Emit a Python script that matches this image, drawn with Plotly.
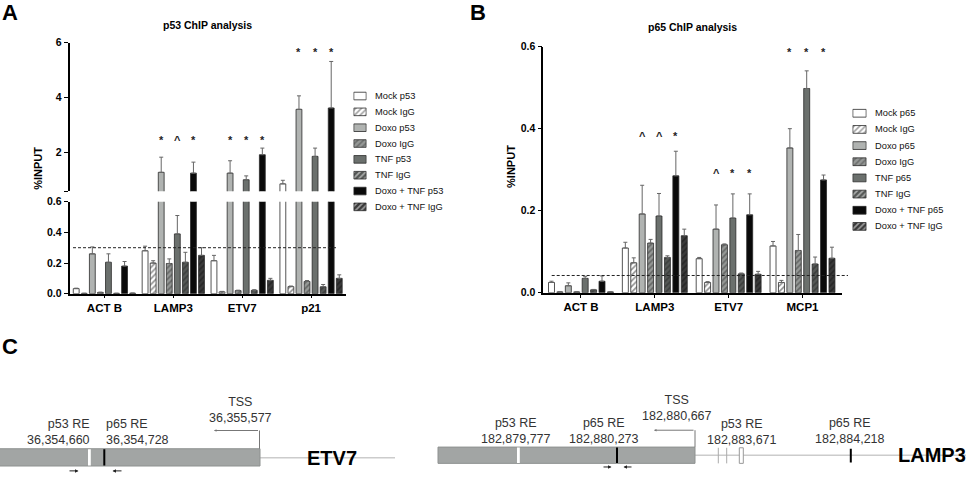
import plotly.graph_objects as go

W, H = 966, 484

# ---------------- DATA ----------------
genes_A = ["ACT B", "LAMP3", "ETV7", "p21"]
genes_B = ["ACT B", "LAMP3", "ETV7", "MCP1"]
series_A = ["Mock p53", "Mock IgG", "Doxo p53", "Doxo IgG", "TNF p53", "TNF IgG",
            "Doxo + TNF p53", "Doxo + TNF IgG"]
series_B = ["Mock p65", "Mock IgG", "Doxo p65", "Doxo IgG", "TNF p65", "TNF IgG",
            "Doxo + TNF p65", "Doxo + TNF IgG"]

# p53 ChIP (%INPUT), order of genes_A
A_mock_p53 = [0.033, 0.28, 0.215, 0.87]
A_mock_p53_err = [0.003, 0.03, 0.035, 0.13]
A_mock_igg = [0.002, 0.20, 0.012, 0.046]
A_mock_igg_err = [0.001, 0.015, 0.003, 0.004]
A_doxo_p53 = [0.26, 1.29, 1.26, 3.58]
A_doxo_p53_err = [0.045, 0.55, 0.45, 0.49]
A_doxo_igg = [0.008, 0.197, 0.02, 0.08]
A_doxo_igg_err = [0.002, 0.03, 0.003, 0.006]
A_tnf_p53 = [0.205, 0.39, 1.02, 1.87]
A_tnf_p53_err = [0.055, 0.12, 0.14, 0.30]
A_tnf_igg = [0.002, 0.205, 0.022, 0.045]
A_tnf_igg_err = [0.001, 0.065, 0.004, 0.015]
A_dt_p53 = [0.18, 1.26, 1.93, 3.63]
A_dt_p53_err = [0.03, 0.40, 0.24, 1.69]
A_dt_igg = [0.003, 0.25, 0.087, 0.10]
A_dt_igg_err = [0.001, 0.05, 0.013, 0.023]
A_threshold = 0.3

# p65 ChIP (%INPUT), order of genes_B
B_mock_p65 = [0.025, 0.109, 0.083, 0.114]
B_mock_p65_err = [0.003, 0.014, 0.003, 0.011]
B_mock_igg = [0.002, 0.073, 0.025, 0.025]
B_mock_igg_err = [0.0, 0.012, 0.002, 0.005]
B_doxo_p65 = [0.017, 0.192, 0.155, 0.353]
B_doxo_p65_err = [0.007, 0.07, 0.059, 0.047]
B_doxo_igg = [0.002, 0.121, 0.117, 0.103]
B_doxo_igg_err = [0.0, 0.009, 0.002, 0.039]
B_tnf_p65 = [0.035, 0.187, 0.182, 0.498]
B_tnf_p65_err = [0.005, 0.055, 0.059, 0.043]
B_tnf_igg = [0.007, 0.086, 0.046, 0.07]
B_tnf_igg_err = [0.001, 0.004, 0.002, 0.017]
B_dt_p65 = [0.028, 0.285, 0.19, 0.275]
B_dt_p65_err = [0.013, 0.06, 0.051, 0.012]
B_dt_igg = [0.002, 0.139, 0.045, 0.084]
B_dt_igg_err = [0.0, 0.016, 0.007, 0.027]
B_threshold = 0.042

# significance marks (gene index, marks over bars 2/4/6, height)
sig_A_genes = [1, 2, 3]
sig_A_marks = [["*", "^", "*"], ["*", "*", "*"], ["*", "*", "*"]]
sig_A_level = [2.56, 2.56, 5.78]
sig_B_genes = [1, 2, 3]
sig_B_marks = [["^", "^", "*"], ["^", "*", "*"], ["*", "*", "*"]]
sig_B_level = [0.389, 0.299, 0.595]
sig_bars = [2, 4, 6]

# gene schematics (panel C)
etv7_re_names = ["p53 RE", "p65 RE"]
etv7_re_coords = ["36,354,660", "36,354,728"]
etv7_tss_coord = "36,355,577"
lamp3_re_names = ["p53 RE", "p65 RE", "p53 RE", "p65 RE"]
lamp3_re_coords = ["182,879,777", "182,880,273", "182,883,671", "182,884,218"]
lamp3_tss_coord = "182,880,667"

# ---------------- STYLE ----------------
FONT = "Liberation Sans, Arial, sans-serif"
fills = ["#ffffff", "#ffffff", "#b0b3b1", "#959896", "#6b706d", "#555856", "#0a0a0a", "#3a3a3a"]
patterns = ["", "/", "", "/", "", "/", "", "/"]
pat_fg = ["#000000", "#222222", "#000000", "#333333", "#000000", "#222222", "#000000", "#111111"]
outline = "#2a2a2a"

A_values = [A_mock_p53, A_mock_igg, A_doxo_p53, A_doxo_igg, A_tnf_p53, A_tnf_igg, A_dt_p53, A_dt_igg]
A_errors = [A_mock_p53_err, A_mock_igg_err, A_doxo_p53_err, A_doxo_igg_err, A_tnf_p53_err,
            A_tnf_igg_err, A_dt_p53_err, A_dt_igg_err]
B_values = [B_mock_p65, B_mock_igg, B_doxo_p65, B_doxo_igg, B_tnf_p65, B_tnf_igg, B_dt_p65, B_dt_igg]
B_errors = [B_mock_p65_err, B_mock_igg_err, B_doxo_p65_err, B_doxo_igg_err, B_tnf_p65_err,
            B_tnf_igg_err, B_dt_p65_err, B_dt_igg_err]

slotA, bwA = 0.117, 0.085
slotB, bwB = 0.114, 0.081


def fx(p):
    return p / W


def fy(p):
    return 1 - p / H


fig = go.Figure()


def add_bars(values, errors, slot, bw, axes_pairs):
    for i, (v, e) in enumerate(zip(values, errors)):
        xs = [g + (i - 3.5) * slot for g in range(len(v))]
        for xa, ya in axes_pairs:
            fig.add_trace(go.Bar(
                x=xs, y=v, width=bw, xaxis=xa, yaxis=ya,
                marker=dict(color=fills[i], line=dict(color=outline, width=0.8),
                            pattern=dict(shape=patterns[i], fgcolor=pat_fg[i], bgcolor=fills[i],
                                         size=4, solidity=0.4)),
                error_y=dict(type="data", symmetric=False, array=e, arrayminus=[0] * len(e),
                             color="#666666", thickness=1, width=2),
                showlegend=False, hoverinfo="skip"))


add_bars(A_values, A_errors, slotA, bwA, [("x", "y"), ("x2", "y2")])
add_bars(B_values, B_errors, slotB, bwB, [("x3", "y3")])


def add_swatches(xa, ya, n):
    fig.add_trace(go.Bar(
        x=[1] * n, y=list(range(n)), base=0, orientation="h", width=0.48, xaxis=xa, yaxis=ya,
        marker=dict(color=fills, line=dict(color=outline, width=0.8),
                    pattern=dict(shape=patterns, fgcolor=pat_fg, bgcolor=fills, size=4, solidity=0.4)),
        showlegend=False, hoverinfo="skip"))


add_swatches("x4", "y4", len(series_A))
add_swatches("x5", "y5", len(series_B))

# -------------- AXES --------------
tickfont = dict(family=FONT, size=10.5, color="black", weight="bold")
catfont = dict(family=FONT, size=11.5, color="black", weight="bold")
axline = dict(showline=True, linecolor="black", linewidth=1.6, ticks="outside", ticklen=4,
              tickcolor="black", tickwidth=1.3, showgrid=False, zeroline=False)
hidden = dict(visible=False, showgrid=False, zeroline=False)

A_x_dom = [fx(69.5), fx(345.5)]
B_x_dom = [fx(543.3), fx(842)]

fig.update_layout(
    width=W, height=H, margin=dict(l=0, r=0, t=0, b=0),
    paper_bgcolor="white", plot_bgcolor="rgba(0,0,0,0)",
    barmode="overlay", showlegend=False,
    xaxis=dict(domain=A_x_dom, anchor="y", range=[-0.507, 3.5], tickvals=list(range(len(genes_A))),
               ticktext=genes_A, tickfont=catfont, **{**axline, "ticklen": 3}),
    yaxis=dict(domain=[fy(295), fy(200.7)], anchor="x", range=[0, 0.6],
               tickvals=[0, 0.2, 0.4, 0.6], ticktext=["0.0", "0.2", "0.4", "0.6"], tickfont=tickfont, **axline),
    xaxis2=dict(domain=A_x_dom, anchor="y2", range=[-0.507, 3.5], **hidden),
    yaxis2=dict(domain=[fy(190), fy(37.7)], anchor="x2", range=[0.6, 6],
                tickvals=[0.6, 2, 4, 6], ticktext=["", "2", "4", "6"], tickfont=tickfont, **axline),
    xaxis3=dict(domain=B_x_dom, anchor="y3", range=[-0.51, 3.535], tickvals=list(range(len(genes_B))),
                ticktext=genes_B, tickfont=catfont, **{**axline, "ticklen": 3}),
    yaxis3=dict(domain=[fy(294), fy(41.7)], anchor="x3", range=[0, 0.6],
                tickvals=[0, 0.2, 0.4, 0.6], ticktext=["0.0", "0.2", "0.4", "0.6"], tickfont=tickfont, **axline),
    xaxis4=dict(domain=[fx(353.3), fx(366.7)], anchor="y4", range=[-0.04, 1.04], **hidden),
    yaxis4=dict(domain=[fy(214.1), fy(84.2)], anchor="x4", range=[7.5, -0.5], **hidden),
    xaxis5=dict(domain=[fx(852.3), fx(866.7)], anchor="y5", range=[-0.04, 1.04], **hidden),
    yaxis5=dict(domain=[fy(234.3), fy(101.7)], anchor="x5", range=[7.5, -0.5], **hidden),
    xaxis6=dict(domain=[0, 1], anchor="y6", range=[0, W], **hidden),
    yaxis6=dict(domain=[0, fy(330)], anchor="x6", range=[H, 330], **hidden),
)

ann = []
shapes = []


def paper_text(text, xp, yp, size, bold=True, xanchor="center", angle=0, color="black"):
    ann.append(dict(text=text, x=fx(xp), y=fy(yp), xref="paper", yref="paper", xanchor=xanchor,
                    yanchor="middle", textangle=angle, showarrow=False,
                    font=dict(family=FONT, size=size, color=color, weight="bold" if bold else "normal")))


# titles, axis labels, panel letters
paper_text("p53 ChIP analysis", 207.5, 19, 10.5)
paper_text("p65 ChIP analysis", 692.6, 21.5, 10.5)
paper_text("%INPUT", 38, 167, 11, angle=-90)
paper_text("%INPUT", 511, 165, 11, angle=-90)
paper_text("A", 0, 7, 22, xanchor="left")
paper_text("B", 487.5, 7, 22, xanchor="right")
paper_text("C", 0, 349, 22, xanchor="left")

# significance marks
for g, marks, lvl in zip(sig_A_genes, sig_A_marks, sig_A_level):
    for b, m in zip(sig_bars, marks):
        ann.append(dict(text=m, x=g + (b - 3.5) * slotA, y=lvl, xref="x2", yref="y2", showarrow=False,
                        xanchor="center", yanchor="middle", yshift=-3,
                        font=dict(family=FONT, size=11, color="#222", weight="bold")))
for g, marks, lvl in zip(sig_B_genes, sig_B_marks, sig_B_level):
    for b, m in zip(sig_bars, marks):
        ann.append(dict(text=m, x=g + (b - 3.5) * slotB, y=lvl, xref="x3", yref="y3", showarrow=False,
                        xanchor="center", yanchor="middle", yshift=-3,
                        font=dict(family=FONT, size=11, color="#222", weight="bold")))

# legend texts
for i, name in enumerate(series_A):
    ann.append(dict(text=name, x=fx(373.3), y=i, xref="paper", yref="y4", xanchor="left", yanchor="middle",
                    showarrow=False, font=dict(family=FONT, size=9.3, color="#111")))
for i, name in enumerate(series_B):
    ann.append(dict(text=name, x=fx(873.3), y=i, xref="paper", yref="y5", xanchor="left", yanchor="middle",
                    showarrow=False, font=dict(family=FONT, size=9.3, color="#111")))

# threshold lines
shapes.append(dict(type="line", xref="paper", yref="y", x0=fx(73), x1=fx(336), y0=A_threshold, y1=A_threshold,
                   line=dict(color="#222", width=1, dash="3px,2px")))
shapes.append(dict(type="line", xref="paper", yref="y3", x0=fx(551.7), x1=fx(848), y0=B_threshold,
                   y1=B_threshold, line=dict(color="#222", width=1, dash="3px,2px")))

# ---------------- gene schematics ----------------
BOX = "#a2a5a4"
BOXLINE = "#8e9190"
THIN = "#cccccc"
txtfont = dict(family=FONT, size=12.5, color="#333")


def rect(x0, x1, y0, y1, fill, line=None, lw=0):
    shapes.append(dict(type="rect", xref="x6", yref="y6", x0=x0, x1=x1, y0=y0, y1=y1, fillcolor=fill,
                       line=dict(color=line or fill, width=lw), layer="above"))


def seg(x0, x1, y0, y1, color, width):
    shapes.append(dict(type="line", xref="x6", yref="y6", x0=x0, x1=x1, y0=y0, y1=y1,
                       line=dict(color=color, width=width), layer="above"))


def arrow(x_tail, x_head, y, color="#222", size=0.7):
    ann.append(dict(text="", x=x_head, y=y, ax=x_tail, ay=y, xref="x6", yref="y6", axref="x6", ayref="y6",
                    showarrow=True, arrowhead=2, arrowsize=size, arrowwidth=1, arrowcolor=color))


def label(lines, x, y, xanchor="center", align="center"):
    ann.append(dict(text="<br>".join(lines), x=x, y=y, xref="x6", yref="y6", xanchor=xanchor,
                    yanchor="middle", align=align, showarrow=False, font=txtfont))


# ETV7
seg(260, 395, 463.3, 463.3, THIN, 1.5)
rect(-5, 260, 454, 471.7, BOX, BOXLINE, 1)
rect(88, 90.8, 454.5, 471.2, "white")
rect(103.3, 105.3, 454.5, 471.2, "black")
seg(259.5, 259.5, 454, 435.3, "#777", 1)
arrow(259.5, 214, 435.3, "#777", 0.5)
label([etv7_re_names[0], etv7_re_coords[0]], 92, 437.3, "right", "right")
label([etv7_re_names[1], etv7_re_coords[1]], 103.5, 437.3, "left", "left")
label(["TSS", etv7_tss_coord], 240, 414.3)
arrow(68, 78.5, 476.7)
arrow(123, 112.5, 476.7)
ann.append(dict(text="ETV7", x=305, y=463.3, xref="x6", yref="y6", xanchor="left", yanchor="middle",
                showarrow=False, font=dict(family=FONT, size=20, color="black", weight="bold")))

# LAMP3
seg(695, 980, 460.7, 460.7, THIN, 1.5)
rect(438, 695, 452.3, 469, BOX, BOXLINE, 1)
rect(517, 519.8, 452.8, 468.5, "white")
rect(616, 618, 452.8, 468.5, "black")
seg(718.3, 718.3, 453, 469, "#aaaaaa", 1)
seg(726.7, 726.7, 453, 469, "#aaaaaa", 1)
rect(739.3, 743.3, 453, 469, "white", "#999999", 1)
rect(849.8, 851.8, 454, 468, "black")
seg(695, 695, 452.3, 435, "#777", 1)
arrow(695, 654, 435, "#777", 0.5)
label([lamp3_re_names[0], lamp3_re_coords[0]], 516, 436.2)
label([lamp3_re_names[1], lamp3_re_coords[1]], 604, 436.2)
label(["TSS", lamp3_tss_coord], 677, 412)
label([lamp3_re_names[2], lamp3_re_coords[2]], 742, 437.3)
label([lamp3_re_names[3], lamp3_re_coords[3]], 850, 436.2)
arrow(602, 611.5, 472.7)
arrow(633, 623.5, 472.7)
ann.append(dict(text="LAMP3", x=895.7, y=460.7, xref="x6", yref="y6", xanchor="left", yanchor="middle",
                showarrow=False, font=dict(family=FONT, size=20, color="black", weight="bold")))

fig.update_layout(annotations=ann, shapes=shapes)
fig.write_html("out.html")
